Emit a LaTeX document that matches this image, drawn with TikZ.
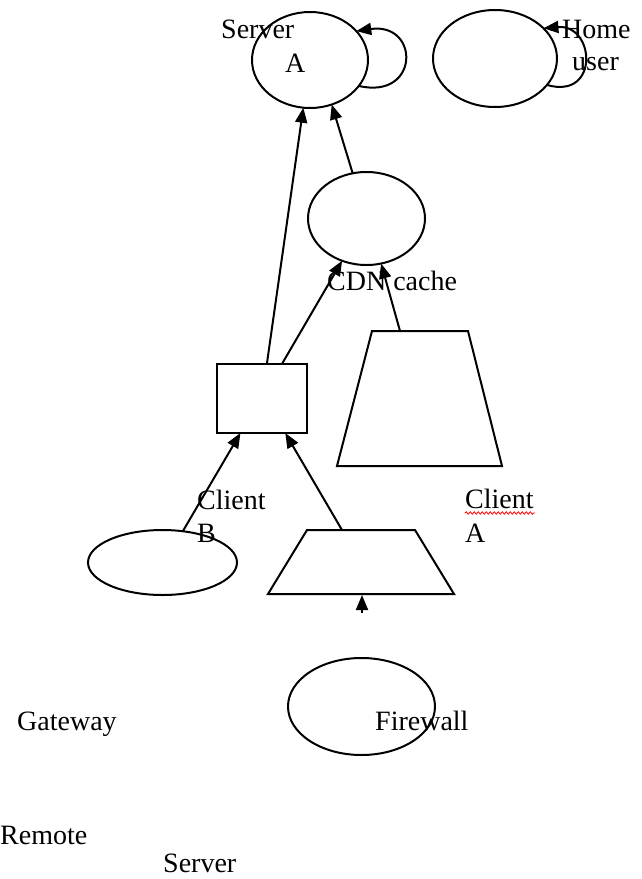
\documentclass[tikz,border=0pt]{standalone}
\usepackage{fontspec}
\setmainfont{Liberation Serif}
\usetikzlibrary{shapes.geometric,arrows.meta,decorations.pathmorphing}
\begin{document}
\begin{tikzpicture}[x=1pt,y=-1pt,
  lw/.style={line width=2pt},
  tri/.style={-{Triangle[length=15pt,width=12pt]}},
  ell/.style={ellipse,draw,lw,inner sep=0pt,outer sep=0pt},
  lbl/.style={anchor=base west,inner sep=0pt,font=\fontsize{28}{34}\selectfont},
  conn/.style={lw,tri}]
\useasboundingbox[fill=white] (0,0) rectangle (642,879);

% shapes
\node[ell,minimum width=116pt,minimum height=96pt] (serverA) at (310,60) {};
\node[ell,minimum width=124pt,minimum height=97pt] (home) at (495,58.5) {};
\node[ell,minimum width=117pt,minimum height=93pt] (cdn) at (366.5,218.5) {};
\node[draw,lw,rectangle,minimum width=90pt,minimum height=69pt,inner sep=0pt,outer sep=0pt] (box) at (262,398.5) {};
\node[ell,minimum width=149pt,minimum height=65pt] (clientB) at (162.5,562.5) {};
\node[ell,minimum width=147pt,minimum height=97pt] (firewall) at (361.5,706.5) {};

% trapezoids
\coordinate (bigTL) at (372,331);
\coordinate (bigTR) at (468,331);
\coordinate (bigBR) at (502,466);
\coordinate (bigBL) at (337,466);
\coordinate (bigtrap) at (400,331);
\draw[lw,line join=miter] (bigTL) -- (bigTR) -- (bigBR) -- (bigBL) -- cycle;
\coordinate (smTL) at (307,530);
\coordinate (smTR) at (415,530);
\coordinate (smBR) at (454,594);
\coordinate (smBL) at (268,594);
\coordinate (smalltrap) at (342,530);
\coordinate (smallbottom) at (362,595);
\draw[lw,line join=miter] (smTL) -- (smTR) -- (smBR) -- (smBL) -- cycle;

% connectors
\draw[conn] (box.82) -- (serverA.-98);
\draw[conn] (cdn.107) -- (serverA.-64);
\draw[conn] (box.60) -- (cdn.-120);
\draw[conn] (bigtrap) -- (cdn.-72);
\draw[conn] (clientB.57) -- (box.-122);
\draw[conn] (smalltrap) -- (box.-56);
\coordinate (fwtip) at (362,613);
\draw[conn] (fwtip) -- (smallbottom);
\draw[conn] (serverA.-28) .. controls (420,100) and (420,22) .. (serverA.32);
\draw[conn] (home.-27) .. controls (600,100) and (595,24) .. (home.32);

% labels
\node[lbl] (tServer) at (221,38) {Server};
\node[lbl] (tA) at (285,72) {A};
\node[lbl] (tHome) at (562,38) {Home};
\node[lbl] (tUser) at (572,70) {user};
\node[lbl] (tCdn) at (327,290) {CDN cache};
\node[lbl] (tClientB) at (197,509) {Client};
\node[lbl] (tB) at (197,542) {B};
\node[lbl] (tClientA) at (465,508) {Client};
\node[lbl] (tA2) at (465,542) {A};
\node[lbl] (tGateway) at (17,730) {Gateway};
\node[lbl] (tFirewall) at (375,730) {Firewall};
\node[lbl] (tRemote) at (0,844) {Remote};
\node[lbl] (tServer2) at (163,872) {Server};
\draw[red,line width=0.8pt,decorate,decoration={snake,amplitude=1.2pt,segment length=4pt}] ([yshift=-5pt]tClientA.base west) -- ++(70,0);
\end{tikzpicture}
\end{document}
